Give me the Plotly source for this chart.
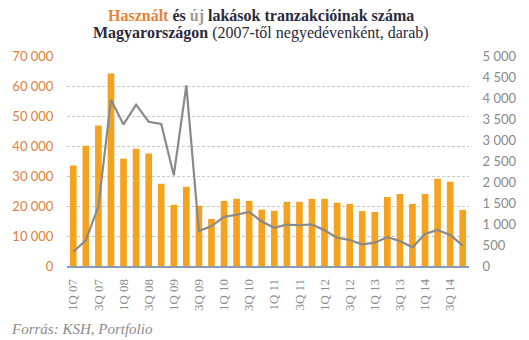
import plotly.graph_objects as go

quarters = [f"{q}Q {y:02d}" for y in range(7, 15) for q in range(1, 5)]
used = [33500, 40100, 46800, 64200, 35800, 39100, 37500, 27400,
        20400, 26400, 20100, 15700, 21700, 22400, 21700, 18800,
        18400, 21400, 21400, 22400, 22400, 21100, 20700, 18300,
        18000, 23000, 24000, 20700, 24000, 29100, 28100, 18700]
new = [340, 610, 1420, 3960, 3370, 3840, 3435, 3380,
       2160, 4300, 830, 950, 1170, 1220, 1290, 1060,
       910, 985, 970, 990, 850, 675, 620, 515,
       555, 685, 595, 445, 760, 860, 740, 485]
tick_labels = quarters[::2]
left_ticks = list(range(0, 70001, 10000))
right_ticks = list(range(0, 5001, 500))

def fmt(v):
    return f"{v:,}".replace(",", " ")

PH = 210.0  # plot height in px
PW = 415.0

fig = go.Figure()
fig.add_trace(go.Bar(x=quarters, y=used, marker_color="#F5A21E",
                     marker_line_width=0, name="Használt", yaxis="y"))
fig.add_trace(go.Scatter(x=quarters, y=new, mode="lines",
                         line=dict(color="#8A8A8A", width=2.2), name="új", yaxis="y2"))

title_font = dict(family="Liberation Serif", size=16, color="#2A2A3A")
fig.update_layout(
    width=529, height=340,
    margin=dict(l=61, r=53, t=56, b=74),
    paper_bgcolor="white", plot_bgcolor="white",
    showlegend=False, bargap=0.47,
    xaxis=dict(
        type="category", tickmode="array", tickvals=tick_labels, ticktext=tick_labels,
        tickangle=-90, tickfont=dict(family="Liberation Serif", size=13, color="#8A8A8A"),
        showline=True, linecolor="#8C9BB5", linewidth=1.5, showgrid=False,
        ticks="outside", ticklen=6, tickcolor="rgba(0,0,0,0)", range=[-0.5, 31.5],
    ),
    yaxis=dict(
        range=[0, 70000], tickvals=left_ticks, ticktext=[fmt(v) for v in left_ticks],
        tickfont=dict(family="Lato", size=13, color="#E0813D"),
        showgrid=True, gridcolor="#C8C8C8", griddash="3px,2px", gridwidth=1,
        zeroline=False, ticks="outside", ticklen=10, tickcolor="rgba(0,0,0,0)",
    ),
    yaxis2=dict(
        range=[0, 5000], tickvals=right_ticks, ticktext=[fmt(v) for v in right_ticks],
        overlaying="y", side="right", showgrid=False, zeroline=False,
        tickfont=dict(family="Lato", size=13, color="#8A8A8A"),
        ticks="outside", ticklen=10, tickcolor="rgba(0,0,0,0)",
    ),
    annotations=[
        dict(text="<b><span style='color:#E8823A'>Használt</span> és "
                  "<span style='color:#9A9A9A'>új</span> lakások tranzakcióinak száma</b>",
             xref="paper", yref="paper", x=(261 - 61) / PW, y=(266 - 16) / PH,
             xanchor="center", yanchor="middle", showarrow=False, font=title_font),
        dict(text="<b>Magyarországon</b> (2007-től negyedévenként, darab)",
             xref="paper", yref="paper", x=(261 - 61) / PW, y=(266 - 33) / PH,
             xanchor="center", yanchor="middle", showarrow=False, font=title_font),
        dict(text="<i>Forrás: KSH, Portfolio</i>", xref="paper", yref="paper",
             x=-60 / PW, y=(266 - 329) / PH, xanchor="left", yanchor="middle",
             showarrow=False, font=dict(family="Liberation Serif", size=15, color="#8A8A8A")),
    ],
)

fig.write_html("out.html")
